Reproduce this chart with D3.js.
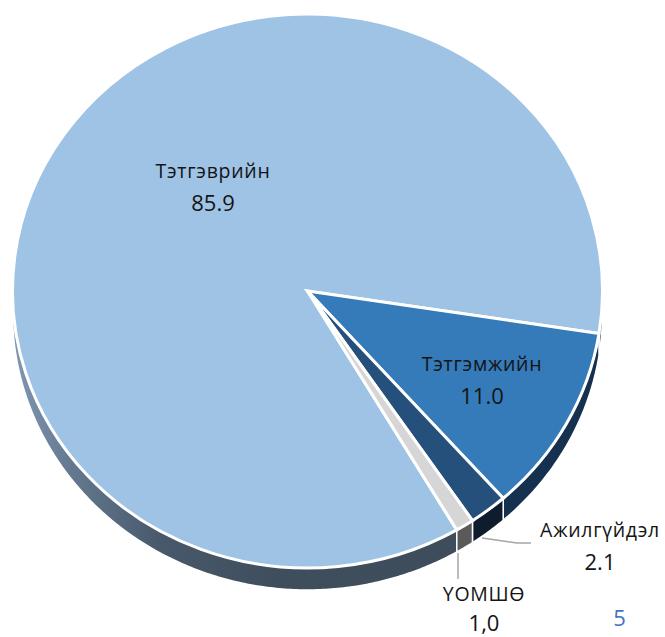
<!DOCTYPE html>
<html><head><meta charset="utf-8">
<script src="https://cdn.jsdelivr.net/npm/d3@7"></script>
<style>html,body{margin:0;padding:0;background:#fff;}svg{display:block;}</style>
</head><body>
<div id="chart"></div>
<script>
const categories = ["Тэтгэврийн", "Тэтгэмжийн", "Ажилгүйдэл", "ҮОМШӨ"];
const values = [85.9, 11.0, 2.1, 1.0];
const valueLabels = ["85.9", "11.0", "2.1", "1,0"];
const topColors = ["#9fc3e5", "#357ab9", "#26507c", "#d6d6d6"];
const sideColors = ["url(#bigSide)", "#16304f", "#0e1c2d", "#5a5a5a"];
const pageNumber = "5";

const W = 665, H = 637;
const cx = 307.5, cy = 291, rx = 295, ry = 277, depth = 22;
const startDeg = 149.6;

const svg = d3.select("#chart").append("svg").attr("width", W).attr("height", H)
  .style("font-family", "'Open Sans', 'Noto Sans', sans-serif");

const defs = svg.append("defs");
const g1 = defs.append("linearGradient").attr("id", "bigSide")
  .attr("gradientUnits", "userSpaceOnUse")
  .attr("x1", cx - rx).attr("y1", 0).attr("x2", cx + rx).attr("y2", 0);
[[0, "#7f98b2"], [0.1, "#64798f"], [0.25, "#48596b"], [0.45, "#3f4e5d"], [1, "#3d4b5a"]]
  .forEach(([o, c]) => g1.append("stop").attr("offset", o).attr("stop-color", c));

const pie = d3.pie().sort(null)
  .startAngle(startDeg * Math.PI / 180)
  .endAngle(startDeg * Math.PI / 180 + 2 * Math.PI);
const arcs = pie(values);

const px = a => cx + rx * Math.sin(a);
const py = a => cy - ry * Math.cos(a);

// side walls (front half: angles PI/2 .. 3PI/2 modulo 2PI)
const sideG = svg.append("g");
arcs.forEach((d, i) => {
  const segs = [];
  for (let k = -1; k <= 2; k++) {
    const lo = Math.PI / 2 + k * 2 * Math.PI, hi = 3 * Math.PI / 2 + k * 2 * Math.PI;
    const a0 = Math.max(d.startAngle, lo), a1 = Math.min(d.endAngle, hi);
    if (a1 > a0) segs.push([a0, a1]);
  }
  segs.forEach(([a0, a1]) => {
    const n = Math.max(4, Math.ceil((a1 - a0) / 0.01));
    const top = d3.range(n + 1).map(j => a0 + (a1 - a0) * j / n);
    const p = d3.path();
    top.forEach((a, j) => j ? p.lineTo(px(a), py(a)) : p.moveTo(px(a), py(a)));
    top.slice().reverse().forEach(a => p.lineTo(px(a), py(a) + depth));
    p.closePath();
    sideG.append("path").attr("d", p.toString())
      .attr("fill", sideColors[i])
      .attr("stroke", "#fff").attr("stroke-width", 1.5).attr("stroke-linejoin", "round");
  });
});

// top faces
const arc = d3.arc().innerRadius(0).outerRadius(rx);
const topG = svg.append("g").attr("transform", `translate(${cx},${cy}) scale(1,${ry / rx})`);
topG.selectAll("path").data(arcs).join("path")
  .attr("d", arc)
  .attr("fill", (d, i) => topColors[i])
  .attr("stroke", "#fff").attr("stroke-width", 3)
  .attr("stroke-linejoin", "miter")
  .attr("vector-effect", "non-scaling-stroke");

// leader lines
const lead = svg.append("g").attr("stroke", "#a6a6a6").attr("stroke-width", 1.5).attr("fill", "none");
lead.append("path").attr("d", d3.line()([[482, 538], [517, 543], [531, 543]]));
lead.append("path").attr("d", d3.line()([[458, 553], [458, 579]]));

// labels
const labelPos = [[213, 178, 211], [482, 371, 404], [600, 537, 570], [484, 601, 630.5]];
const lab = svg.append("g").attr("text-anchor", "middle").attr("fill", "#141414");
categories.forEach((c, i) => {
  const [x, y1, y2] = labelPos[i];
  lab.append("text").attr("x", x).attr("y", y1).style("font-size", "19.5px")
    .style("letter-spacing", "0.7px").text(c);
  lab.append("text").attr("x", x).attr("y", y2).style("font-size", "22px").text(valueLabels[i]);
});

svg.append("text").attr("x", 619.5).attr("y", 626).attr("text-anchor", "middle")
  .attr("fill", "#4472c4").style("font-size", "22px").text(pageNumber);
</script>
</body></html>
